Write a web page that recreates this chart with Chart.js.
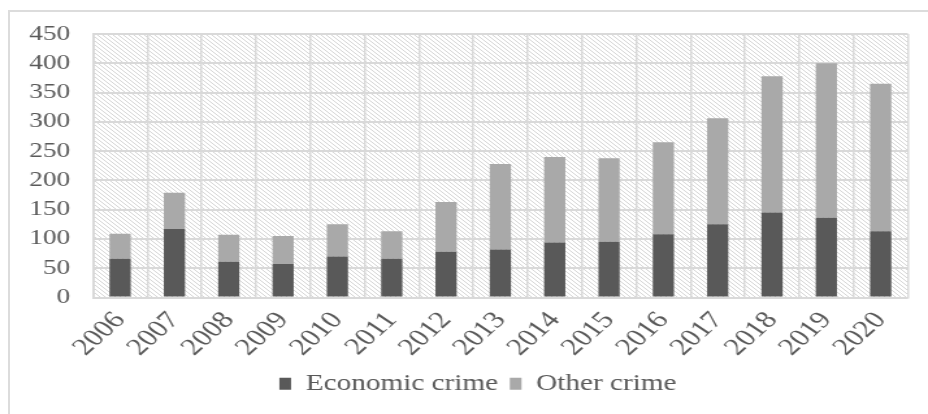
<!DOCTYPE html>
<html><head><meta charset="utf-8">
<script src="https://cdn.jsdelivr.net/npm/chart.js@4/dist/chart.umd.min.js"></script>
<style>
html,body{margin:0;padding:0;background:#fff;}
body{width:928px;height:414px;overflow:hidden;position:relative;}
#frame{position:absolute;left:8px;top:10px;width:940px;height:420px;border-left:2px solid #dcdcdc;border-top:2px solid #dcdcdc;}
#wrap{position:absolute;left:0;top:0;width:714px;height:414px;transform:scaleX(1.2997);transform-origin:0 0;}
</style></head><body>
<div id="frame"></div>
<div id="wrap"><canvas id="c" width="714" height="414"></canvas></div>
<script>
const years = ['2006','2007','2008','2009','2010','2011','2012','2013','2014','2015','2016','2017','2018','2019','2020'];
const economicCrime = [66, 117, 61, 57, 70, 66, 78, 82, 94, 95, 108, 125, 145, 136, 113];
const otherCrime    = [43, 62, 46, 48, 55, 47, 85, 146, 146, 143, 157, 181, 233, 264, 252];
const yTickValues = [0, 50, 100, 150, 200, 250, 300, 350, 400, 450];
const seriesNames = ['Economic crime', 'Other crime'];

const FAMILY = '"Liberation Serif", "Times New Roman", serif';
const TEXT = '#595959';
const GRID = '#d9d9d9';

function makeHatch(ctx) {
  const s = 4;
  const c = document.createElement('canvas');
  c.width = s; c.height = s;
  const g = c.getContext('2d');
  g.fillStyle = '#ffffff';
  g.fillRect(0, 0, s, s);
  g.strokeStyle = '#d6d6d6';
  g.lineWidth = 1;
  for (const off of [-s, 0, s]) {
    g.beginPath();
    g.moveTo(off, 0);
    g.lineTo(off + s, s);
    g.stroke();
  }
  return ctx.createPattern(c, 'repeat');
}

const hatchPlugin = {
  id: 'hatch',
  beforeDraw(chart) {
    const {ctx, chartArea: a} = chart;
    ctx.save();
    ctx.fillStyle = makeHatch(ctx);
    ctx.fillRect(a.left, a.top, a.right - a.left, a.bottom - a.top);
    ctx.restore();
  }
};

const legendShift = {
  id: 'legendShift',
  afterLayout(chart) {
    const l = chart.legend;
    if (l) { l.left += 9.5; l.right += 9.5; }
  }
};

new Chart(document.getElementById('c').getContext('2d'), {
  type: 'bar',
  data: {
    labels: years,
    datasets: [
      {label: seriesNames[0], data: economicCrime, backgroundColor: '#595959', stack: 's'},
      {label: seriesNames[1], data: otherCrime, backgroundColor: '#a9a9a9', stack: 's'}
    ]
  },
  options: {
    responsive: false,
    animation: false,
    devicePixelRatio: 1,
    layout: {padding: {left: 18, right: 15.5, top: 34, bottom: 9}},
    datasets: {bar: {categoryPercentage: 1, barPercentage: 0.39}},
    plugins: {
      tooltip: {enabled: false},
      legend: {
        position: 'bottom',
        labels: {font: {family: FAMILY, size: 22.5}, color: TEXT, boxWidth: 9, boxHeight: 12, padding: 9}
      }
    },
    scales: {
      x: {
        stacked: true,
        offset: true,
        grid: {color: GRID, lineWidth: 1.5, drawTicks: false, offset: true},
        border: {display: true, color: GRID, width: 1.5},
        ticks: {font: {family: FAMILY, size: 24}, color: TEXT, minRotation: 49, maxRotation: 49, padding: 9, autoSkip: false},
        afterFit(s) { s.height = 66; }
      },
      y: {
        stacked: true,
        min: 0, max: 450,
        afterBuildTicks(s) { s.ticks = yTickValues.map(v => ({value: v})); },
        ticks: {font: {family: FAMILY, size: 21}, color: TEXT, padding: 17.5},
        grid: {color: GRID, lineWidth: 2, drawTicks: false},
        border: {display: true, color: GRID, width: 2},
        afterFit(s) { s.width = 53.5; }
      }
    }
  },
  plugins: [hatchPlugin, legendShift]
});
</script>
</body></html>
